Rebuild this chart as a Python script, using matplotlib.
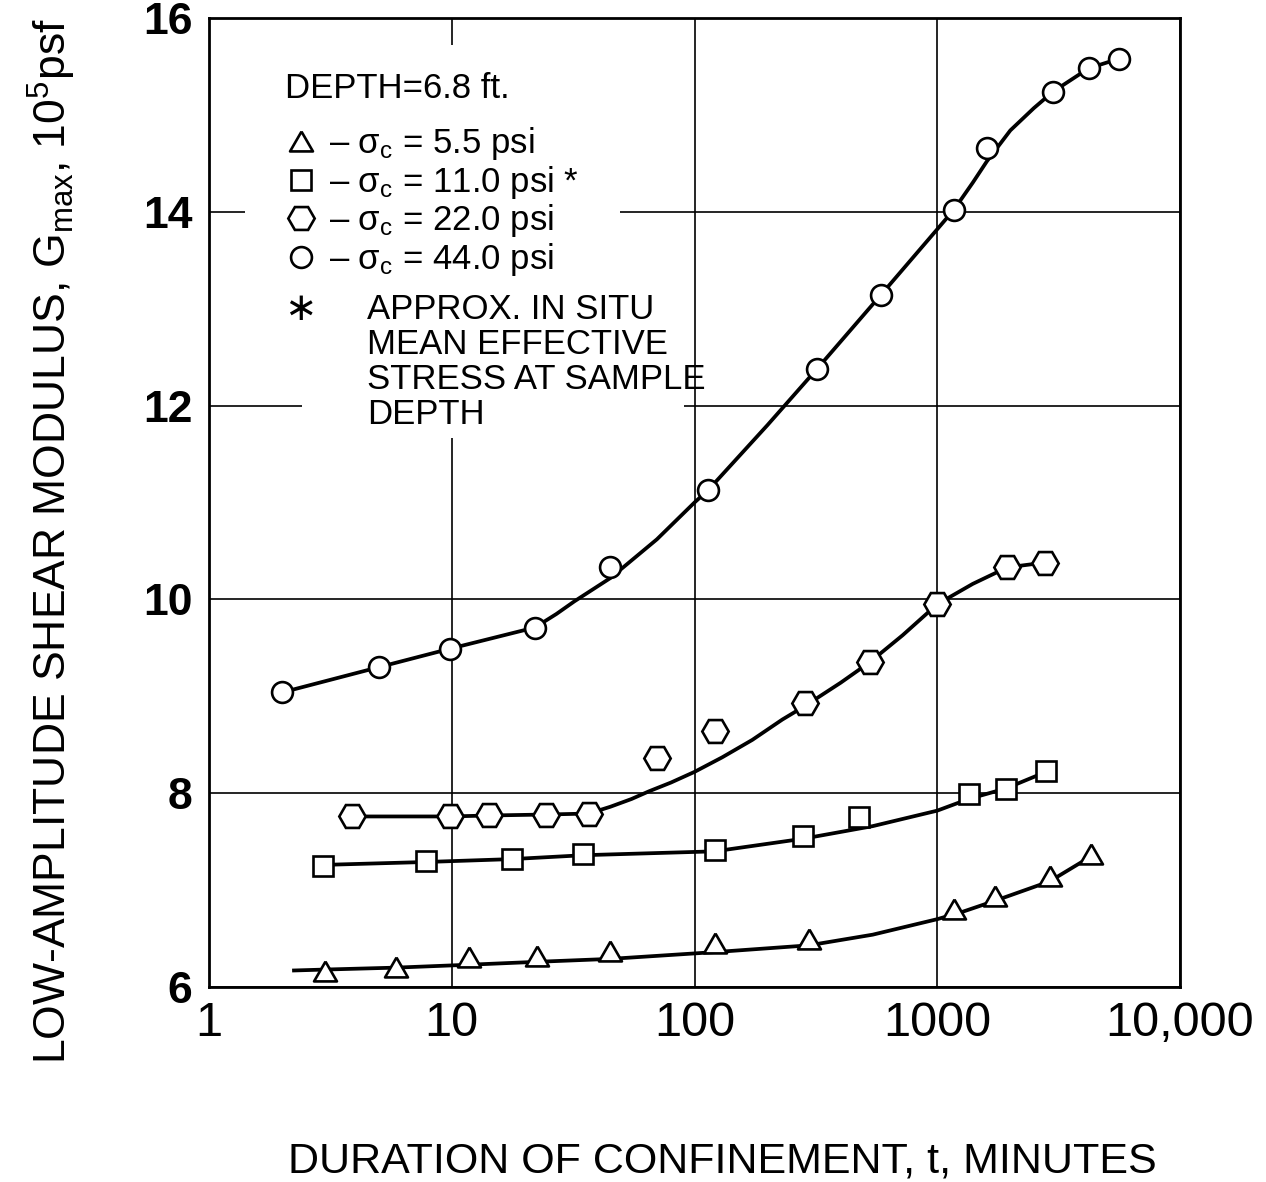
import matplotlib
matplotlib.use("Agg")
import matplotlib.pyplot as plt
from matplotlib import font_manager as fm
from matplotlib.patches import Rectangle
from matplotlib.ticker import NullLocator

# ---------------- data ----------------
# sigma_c = 5.5 psi (triangles)
t_tri = [3.0, 5.9, 11.8, 22.5, 44.9, 121, 296, 1173, 1730, 2905, 4315]
g_tri = [6.17, 6.21, 6.31, 6.32, 6.37, 6.45, 6.50, 6.81, 6.94, 7.15, 7.37]
fit_t_tri = [2.2, 3.0, 5.9, 11.8, 22.5, 44.9, 121, 296, 542, 1000, 1250, 1730, 2905, 4315]
fit_g_tri = [6.17, 6.18, 6.20, 6.23, 6.26, 6.29, 6.36, 6.43, 6.54, 6.70, 6.77, 6.89, 7.09, 7.35]

# sigma_c = 11.0 psi (squares)
t_sq = [2.95, 7.8, 17.7, 34.8, 121, 280, 478, 1346, 1923, 2806]
g_sq = [7.25, 7.30, 7.32, 7.37, 7.41, 7.56, 7.75, 7.99, 8.04, 8.23]
fit_t_sq = [2.95, 7.8, 17.7, 34.8, 121, 280, 542, 1000, 1346, 1923, 2806]
fit_g_sq = [7.26, 7.29, 7.32, 7.36, 7.40, 7.53, 7.66, 7.82, 7.94, 8.05, 8.22]

# sigma_c = 22.0 psi (hexagons)
t_hex = [3.9, 9.8, 14.3, 24.5, 36.7, 70, 121, 285, 526, 1000, 1940, 2770]
g_hex = [7.76, 7.76, 7.77, 7.78, 7.79, 8.36, 8.64, 8.93, 9.35, 9.95, 10.33, 10.38]
fit_t_hex = [3.9, 9.8, 14.3, 24.5, 36.7, 45, 55, 65, 80, 100, 130, 173, 230, 285, 400, 526,
             720, 1000, 1400, 1940, 2770]
fit_g_hex = [7.76, 7.76, 7.77, 7.78, 7.79, 7.86, 7.94, 8.02, 8.11, 8.22, 8.37, 8.55, 8.76,
             8.90, 9.14, 9.35, 9.63, 9.95, 10.16, 10.33, 10.38]

# sigma_c = 44.0 psi (circles)
t_circ = [2, 5, 9.8, 22, 45, 114, 320, 585, 1170, 1600, 3000, 4200, 5600]
g_circ = [9.04, 9.30, 9.49, 9.71, 10.33, 11.13, 12.38, 13.14, 14.02, 14.66, 15.24, 15.48, 15.58]
fit_t_circ = [2, 5, 9.8, 22, 27, 32, 45, 70, 100, 114, 200, 320, 585, 1000, 1170, 1400,
              1600, 2000, 2500, 3000, 4200, 5600]
fit_g_circ = [9.04, 9.30, 9.49, 9.71, 9.85, 9.98, 10.22, 10.62, 11.0, 11.13, 11.8, 12.38,
              13.14, 13.82, 14.02, 14.30, 14.52, 14.84, 15.07, 15.24, 15.48, 15.58]

x_ticks = [1, 10, 100, 1000, 10000]
x_ticklabels = ["1", "10", "100", "1000", "10,000"]
y_ticks = [6, 8, 10, 12, 14, 16]
y_ticklabels = ["6", "8", "10", "12", "14", "16"]

legend_labels = [r"– $\mathregular{\sigma_c}$ = 5.5 psi",
                 r"– $\mathregular{\sigma_c}$ = 11.0 psi *",
                 r"– $\mathregular{\sigma_c}$ = 22.0 psi",
                 r"– $\mathregular{\sigma_c}$ = 44.0 psi"]
note_lines = ["APPROX. IN SITU", "MEAN EFFECTIVE", "STRESS AT SAMPLE", "DEPTH"]

# ---------------- fonts ----------------
names = {f.name for f in fm.fontManager.ttflist}
SANS = "Liberation Sans" if "Liberation Sans" in names else "DejaVu Sans"

plt.rcParams["font.family"] = [SANS, "DejaVu Sans"]
plt.rcParams["mathtext.fontset"] = "custom"
plt.rcParams["mathtext.rm"] = SANS
plt.rcParams["mathtext.it"] = SANS + ":italic"
plt.rcParams["mathtext.bf"] = SANS + ":bold"

# ---------------- figure ----------------
W, H = 1266, 1182
fig = plt.figure(figsize=(W / 100, H / 100), dpi=100)


def fx(px):
    return px / W


def fy(py):
    return 1 - py / H


AX_L, AX_R, AX_T, AX_B = 209, 1180, 18, 987
ax = fig.add_axes([fx(AX_L), fy(AX_B), (AX_R - AX_L) / W, (AX_B - AX_T) / H])
ax.set_xscale("log")
ax.set_xlim(1, 10000)
ax.set_ylim(6, 16)

ax.set_xticks(x_ticks)
ax.set_xticklabels(x_ticklabels, fontsize=35, family=SANS)
ax.xaxis.set_minor_locator(NullLocator())
ax.set_yticks(y_ticks)
ax.set_yticklabels(y_ticklabels, fontsize=32, family=SANS, fontweight="bold")
ax.tick_params(axis="both", length=0)
ax.tick_params(axis="x", pad=10)
ax.tick_params(axis="y", pad=12)
ax.grid(True, which="major", color="black", linewidth=1.2)
for sp in ax.spines.values():
    sp.set_linewidth(2.0)

# white cut-out behind the annotation block
ax.add_patch(Rectangle((fx(245), fy(300)), fx(620) - fx(245), fy(45) - fy(300),
                       transform=fig.transFigure, facecolor="white", edgecolor="none",
                       zorder=1.8))
ax.add_patch(Rectangle((fx(302), fy(438)), fx(684) - fx(302), fy(299) - fy(438),
                       transform=fig.transFigure, facecolor="white", edgecolor="none",
                       zorder=1.8))

LW = 2.7
MEW = 1.9
tri_marker = [(0, 0.866), (-1, -0.866), (1, -0.866), (0, 0.866)]

ax.plot(fit_t_tri, fit_g_tri, color="black", lw=LW, zorder=3, solid_capstyle="butt")
ax.plot(fit_t_sq, fit_g_sq, color="black", lw=LW, zorder=3, solid_capstyle="butt")
ax.plot(fit_t_hex, fit_g_hex, color="black", lw=LW, zorder=3, solid_capstyle="butt")
ax.plot(fit_t_circ, fit_g_circ, color="black", lw=LW, zorder=3, solid_capstyle="butt")

h_tri, = ax.plot(t_tri, g_tri, ls="none", marker=tri_marker, ms=16.5, mfc="white",
                 mec="black", mew=MEW, zorder=4)
h_sq, = ax.plot(t_sq, g_sq, ls="none", marker="s", ms=14, mfc="white",
                mec="black", mew=MEW, zorder=4)
h_hex, = ax.plot(t_hex, g_hex, ls="none", marker="H", ms=19, mfc="white",
                 mec="black", mew=MEW, zorder=4)
h_circ, = ax.plot(t_circ, g_circ, ls="none", marker="o", ms=15, mfc="white",
                  mec="black", mew=MEW, zorder=4)

# ---------------- annotation block ----------------
TXT = 25
fig.text(fx(285), fy(89), "DEPTH=6.8 ft.", fontsize=TXT, ha="left", va="center")
leg = ax.legend(handles=[h_tri, h_sq, h_hex, h_circ], labels=legend_labels,
                loc="upper left", bbox_to_anchor=(fx(284), fy(125)),
                bbox_transform=fig.transFigure, frameon=False, fontsize=TXT,
                handlelength=1.0, handletextpad=0.3, labelspacing=0.05,
                borderpad=0, borderaxespad=0)
fig.text(fx(300), fy(309), "∗", fontsize=28, family="DejaVu Sans", ha="center", va="center")
for yy, line in zip([309, 345, 380, 415], note_lines):
    fig.text(fx(367), fy(yy), line, fontsize=TXT, ha="left", va="center")

# ---------------- axis labels ----------------
ax.set_xlabel("DURATION OF CONFINEMENT, t, MINUTES", fontsize=31, family=SANS,
              va="center")
ax.xaxis.set_label_coords((722 - AX_L) / (AX_R - AX_L), -(1161 - AX_B) / (AX_B - AX_T))
ax.set_ylabel(r"LOW-AMPLITUDE SHEAR MODULUS, G$_{\mathregular{max}}$, 10$^{\mathregular{5}}$psf",
              fontsize=32, family=SANS, va="center", ha="center")
ax.yaxis.set_label_coords((52 - AX_L) / (AX_R - AX_L), (AX_B - 541) / (AX_B - AX_T))

fig.savefig("out.png", dpi=100, facecolor="white")
